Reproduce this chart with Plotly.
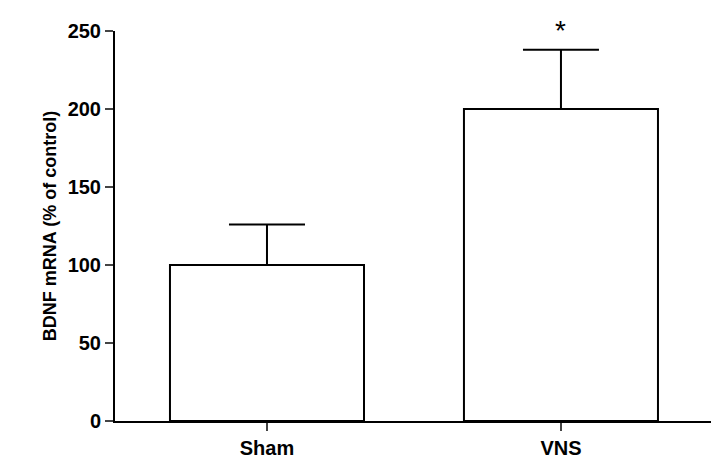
import plotly.graph_objects as go

groups = ["Sham", "VNS"]
means = [100, 200]
errors = [26, 38]
tick_vals = [0, 50, 100, 150, 200, 250]

fig = go.Figure(go.Bar(
    x=[0, 1], y=means, width=0.66,
    marker=dict(color="white", line=dict(color="black", width=2)),
    error_y=dict(type="data", array=errors, arrayminus=[0, 0], symmetric=False,
                 color="black", thickness=2, width=38),
))
fig.add_annotation(x=1, y=means[1] + errors[1] + 1, text="*", showarrow=False,
                   yanchor="bottom", font=dict(size=28, color="black"))

fig.update_layout(
    width=719, height=472, plot_bgcolor="white", paper_bgcolor="white",
    margin=dict(l=107, r=12, t=12, b=59), showlegend=False,
    font=dict(family="Liberation Sans, Arial", size=20, color="black"),
)
fig.update_xaxes(range=[-0.517, 1.524], tickvals=[0, 1], ticktext=[f"<b>{g}</b>" for g in groups],
                 showline=True, linecolor="black", linewidth=2, ticks="outside",
                 ticklen=8, tickwidth=2, showgrid=False, zeroline=False)
fig.update_yaxes(range=[0, 250], tickvals=tick_vals, ticktext=[f"<b>{v}</b>" for v in tick_vals],
                 showline=True, linecolor="black", linewidth=2, ticks="outside",
                 ticklen=8, tickwidth=2, showgrid=False, zeroline=False,
                 title=dict(text="<b>BDNF mRNA (% of control)</b>", font=dict(size=18), standoff=6))
fig.write_html("out.html")
